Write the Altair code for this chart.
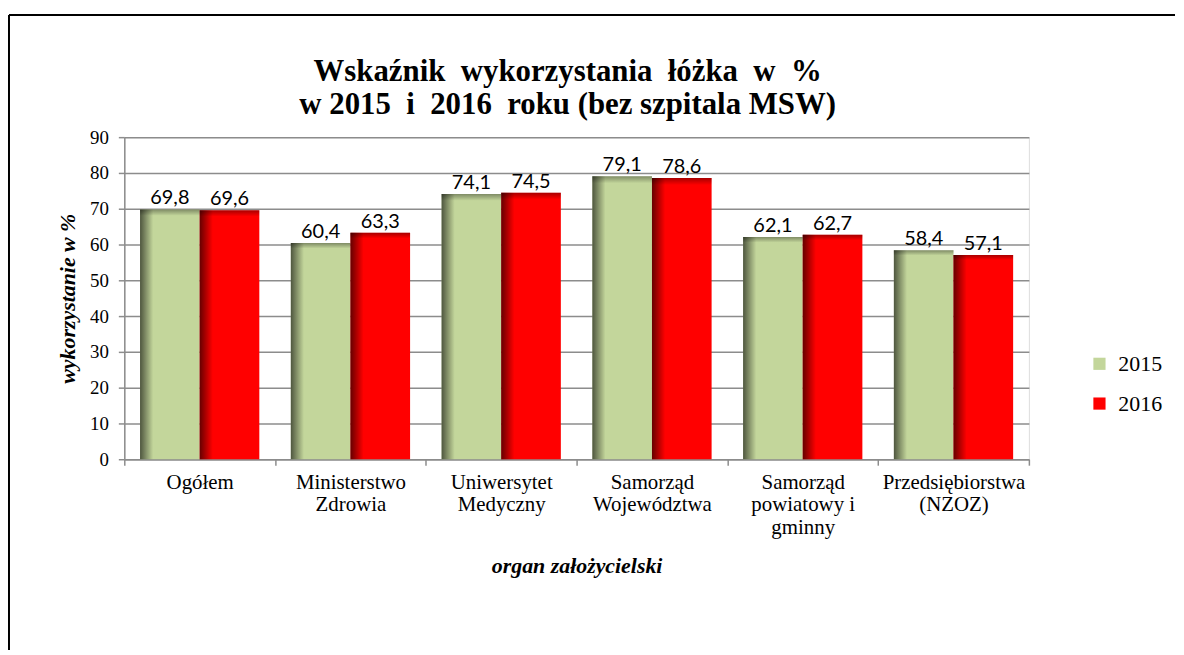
import altair as alt
import pandas as pd

categories = ["Ogółem", "Ministerstwo|Zdrowia", "Uniwersytet|Medyczny",
              "Samorząd|Województwa", "Samorząd|powiatowy i|gminny",
              "Przedsiębiorstwa|(NZOZ)"]
years = ["2015", "2016"]
values_2015 = [69.8, 60.4, 74.1, 79.1, 62.1, 58.4]
values_2016 = [69.6, 63.3, 74.5, 78.6, 62.7, 57.1]
colors = ["#C3D69B", "#FF0000"]
y_ticks = [0, 10, 20, 30, 40, 50, 60, 70, 80, 90]

rows = []
for c, a, b in zip(categories, values_2015, values_2016):
    rows.append({"organ": c, "rok": years[0], "v": a})
    rows.append({"organ": c, "rok": years[1], "v": b})
df = pd.DataFrame(rows)

W, H = 910, 324
SERIF = "'Liberation Serif', 'Times New Roman', Times, serif"

x_enc = alt.X(
    "organ:N", sort=categories,
    scale=alt.Scale(paddingInner=0, paddingOuter=0),
    axis=alt.Axis(
        title="organ założycielski", labelExpr="split(datum.label, '|')",
        labelAngle=0, tickBand="extent", grid=False, labelFont=SERIF,
        labelFontSize=21, labelColor="black", labelLineHeight=23,
        labelPadding=6, tickSize=6, titleFont=SERIF, titleFontSize=22,
        titleFontWeight="bold", titleFontStyle="italic", titlePadding=18,
        titleColor="black", domainColor="#8c8c8c", tickColor="#8c8c8c",
        domainWidth=1.5, tickWidth=1.5,
    ),
)
xo_enc = alt.XOffset("rok:N", sort=years,
                     scale=alt.Scale(paddingInner=0, paddingOuter=0.264))
y_enc = alt.Y(
    "v:Q", scale=alt.Scale(domain=[0, 90], nice=False),
    axis=alt.Axis(
        values=y_ticks, title="wykorzystanie w %", labelFont=SERIF,
        labelFontSize=19, labelColor="black", labelPadding=10, tickSize=6,
        titleFont=SERIF, titleFontSize=22, titleFontWeight="bold",
        titleFontStyle="italic", titlePadding=10, titleColor="black",
        gridColor="#8c8c8c", gridWidth=1.5, domainColor="#8c8c8c",
        tickColor="#8c8c8c", domainWidth=1.5, tickWidth=1.5,
    ),
)

base = alt.Chart(df).encode(x=x_enc, xOffset=xo_enc, y=y_enc)

bars = base.mark_bar().encode(
    color=alt.Color(
        "rok:N", sort=years,
        scale=alt.Scale(domain=years, range=colors),
        legend=alt.Legend(
            title=None, orient="none", legendX=970, legendY=217,
            symbolType="square", symbolSize=150, symbolStrokeWidth=0,
            labelFont=SERIF, labelFontSize=22, labelColor="black",
            rowPadding=18, labelOffset=8, padding=0,
        ),
    )
)

shade_left = base.mark_bar(
    fill=alt.Gradient(
        gradient="linear", x1=0, x2=1, y1=0, y2=0,
        stops=[alt.GradientStop(offset=0, color="rgba(0,0,0,0.6)"),
               alt.GradientStop(offset=0.22, color="rgba(0,0,0,0)"),
               alt.GradientStop(offset=1, color="rgba(0,0,0,0)")],
    )
)
shade_top = base.mark_bar(
    fill=alt.Gradient(
        gradient="linear", x1=0, x2=0, y1=0, y2=1,
        stops=[alt.GradientStop(offset=0, color="rgba(0,0,0,0.35)"),
               alt.GradientStop(offset=0.025, color="rgba(0,0,0,0)"),
               alt.GradientStop(offset=1, color="rgba(0,0,0,0)")],
    )
)

labels = base.transform_calculate(
    lab="replace(format(datum.v, '.1f'), '.', ',')"
).mark_text(
    font="Lato", fontSize=20, color="black", baseline="bottom", dy=-1
).encode(text="lab:N")

one = pd.DataFrame({"k": [0]})
frame_top = alt.Chart(one).mark_rule(color="black", strokeWidth=2).encode(
    x=alt.value(-116), x2=alt.value(1057), y=alt.value(-123))
frame_left = alt.Chart(one).mark_rule(color="black", strokeWidth=2).encode(
    x=alt.value(-116), y=alt.value(-123), y2=alt.value(516))

title = alt.TitleParams(
    text=["Wskaźnik\u00a0 wykorzystania\u00a0 łóżka\u00a0 w\u00a0 %",
          "w 2015\u00a0 i\u00a0 2016\u00a0 roku (bez szpitala MSW)"],
    font=SERIF, fontSize=31, fontWeight="bold", color="black",
    anchor="middle", frame="group", offset=-108, lineHeight=33, dx=-9,
)

chart = alt.layer(
    bars, shade_left, shade_top, labels, frame_top, frame_left
).properties(
    width=W, height=H, title=title,
    padding={"left": 0, "top": 4, "right": 0, "bottom": 0},
).configure_view(stroke=None).configure(background="white")

chart.save("out.html", embed_options={"renderer": "svg", "actions": False})
